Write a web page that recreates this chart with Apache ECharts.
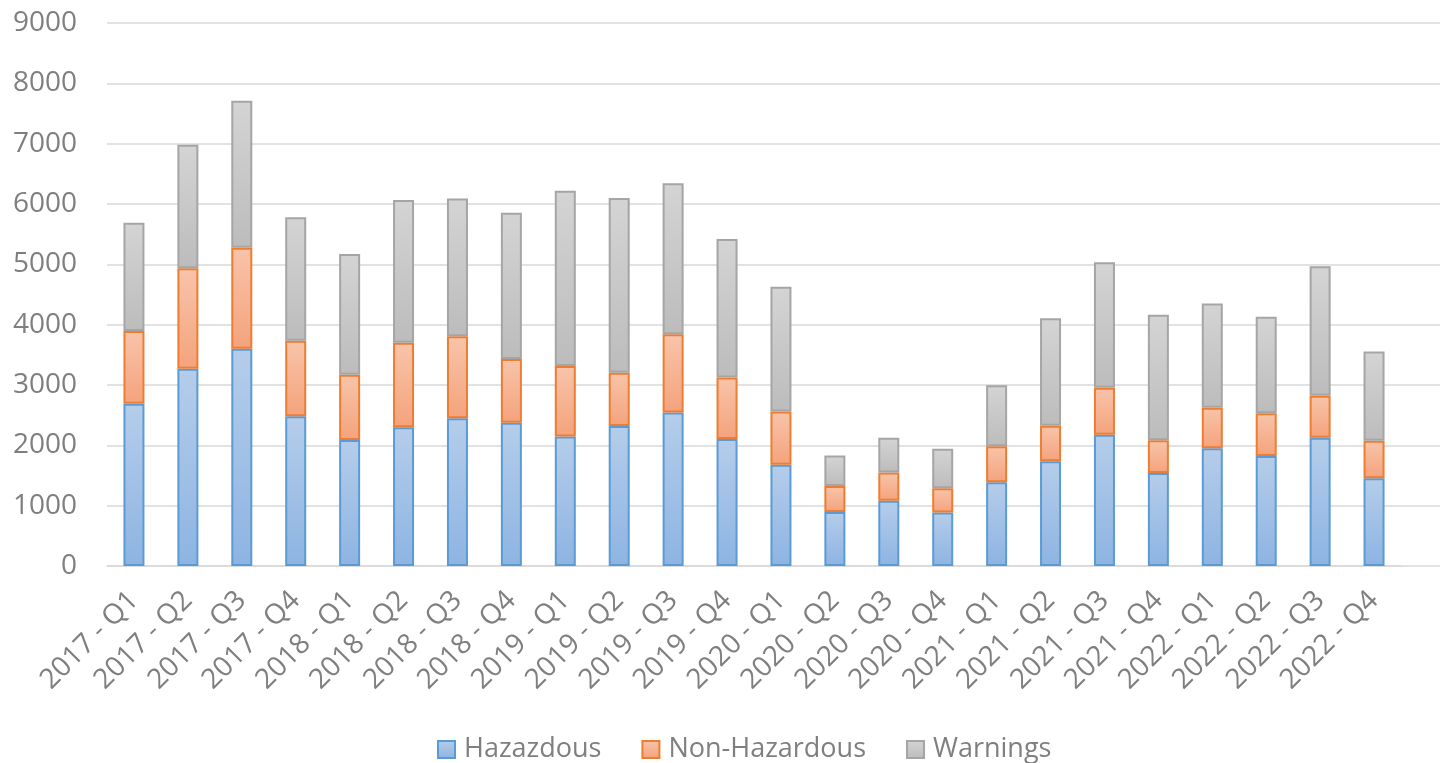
<!DOCTYPE html>
<html>
<head>
<meta charset="utf-8">
<script src="https://cdn.jsdelivr.net/npm/echarts@6/dist/echarts.min.js"></script>
<style>
html,body{margin:0;padding:0;background:#fff;}
#chart{width:1440px;height:763px;}
</style>
</head>
<body>
<div id="chart"></div>
<script>
const categories = ["2017 - Q1","2017 - Q2","2017 - Q3","2017 - Q4","2018 - Q1","2018 - Q2","2018 - Q3","2018 - Q4","2019 - Q1","2019 - Q2","2019 - Q3","2019 - Q4","2020 - Q1","2020 - Q2","2020 - Q3","2020 - Q4","2021 - Q1","2021 - Q2","2021 - Q3","2021 - Q4","2022 - Q1","2022 - Q2","2022 - Q3","2022 - Q4"];
const hazardous = [2690,3270,3600,2480,2090,2300,2450,2375,2145,2320,2545,2105,1680,895,1080,885,1390,1735,2175,1540,1950,1825,2125,1455];
const nonHazardous = [1205,1665,1675,1255,1080,1400,1360,1055,1170,885,1295,1020,880,430,470,405,595,590,780,545,675,705,695,620];
const warnings = [1795,2045,2435,2045,2000,2365,2280,2425,2905,2895,2505,2295,2070,505,575,655,1010,1780,2080,2080,1725,1600,2150,1480];
const yTicks = [0,1000,2000,3000,4000,5000,6000,7000,8000,9000];

const textColor = '#7f7f7f';
const font = '"Open Sans", sans-serif';
function grad(top, bottom){
  return new echarts.graphic.LinearGradient(0,0,0,1,[{offset:0,color:top},{offset:1,color:bottom}]);
}
const chart = echarts.init(document.getElementById('chart'));
const barW = 21;
chart.setOption({
  animation:false,
  backgroundColor:'#fff',
  grid:[
    {left:107, width:1294, top:23, bottom:197, containLabel:false},
    {left:107, right:0, top:23, bottom:197, containLabel:false}
  ],
  legend:{
    bottom:-5, left:432,
    icon:'rect',
    itemWidth:17, itemHeight:17, itemGap:40,
    textStyle:{color:textColor, fontSize:27, fontFamily:font, padding:[0,0,0,4]},
    data:['Hazazdous','Non-Hazardous','Warnings']
  },
  xAxis:[
    {type:'category', gridIndex:0, data:categories,
     axisLine:{show:true, lineStyle:{color:'#d9d9d9', width:1.5}},
     axisTick:{show:false},
     axisLabel:{rotate:45, interval:0, margin:30, color:textColor, fontSize:28, fontFamily:font}},
    {type:'value', gridIndex:1, show:false, min:0, max:1}
  ],
  yAxis:[
    {type:'value', gridIndex:0, min:yTicks[0], max:yTicks[yTicks.length-1], interval:1000,
     axisLine:{show:false}, axisTick:{show:false}, splitLine:{show:false},
     axisLabel:{margin:30, color:textColor, fontSize:28, fontFamily:font, formatter:function(v){return String(v);}}},
    {type:'value', gridIndex:1, min:yTicks[0], max:yTicks[yTicks.length-1], interval:1000,
     axisLine:{show:false}, axisTick:{show:false}, axisLabel:{show:false},
     splitLine:{show:true, lineStyle:{color:'#d9d9d9', width:1.5}}}
  ],
  series:[
    {name:'Hazazdous', type:'bar', stack:'s', barWidth:barW, data:hazardous,
     itemStyle:{color:grad('#b5cdea','#8db4e2'), borderColor:'#5b9bd5', borderWidth:2}},
    {name:'Non-Hazardous', type:'bar', stack:'s', barWidth:barW, data:nonHazardous,
     itemStyle:{color:grad('#f8c4aa','#f4a37c'), borderColor:'#ed7d31', borderWidth:2}},
    {name:'Warnings', type:'bar', stack:'s', barWidth:barW, data:warnings,
     itemStyle:{color:grad('#d4d4d4','#bcbcbc'), borderColor:'#a5a5a5', borderWidth:2}}
  ]
});
</script>
</body>
</html>
